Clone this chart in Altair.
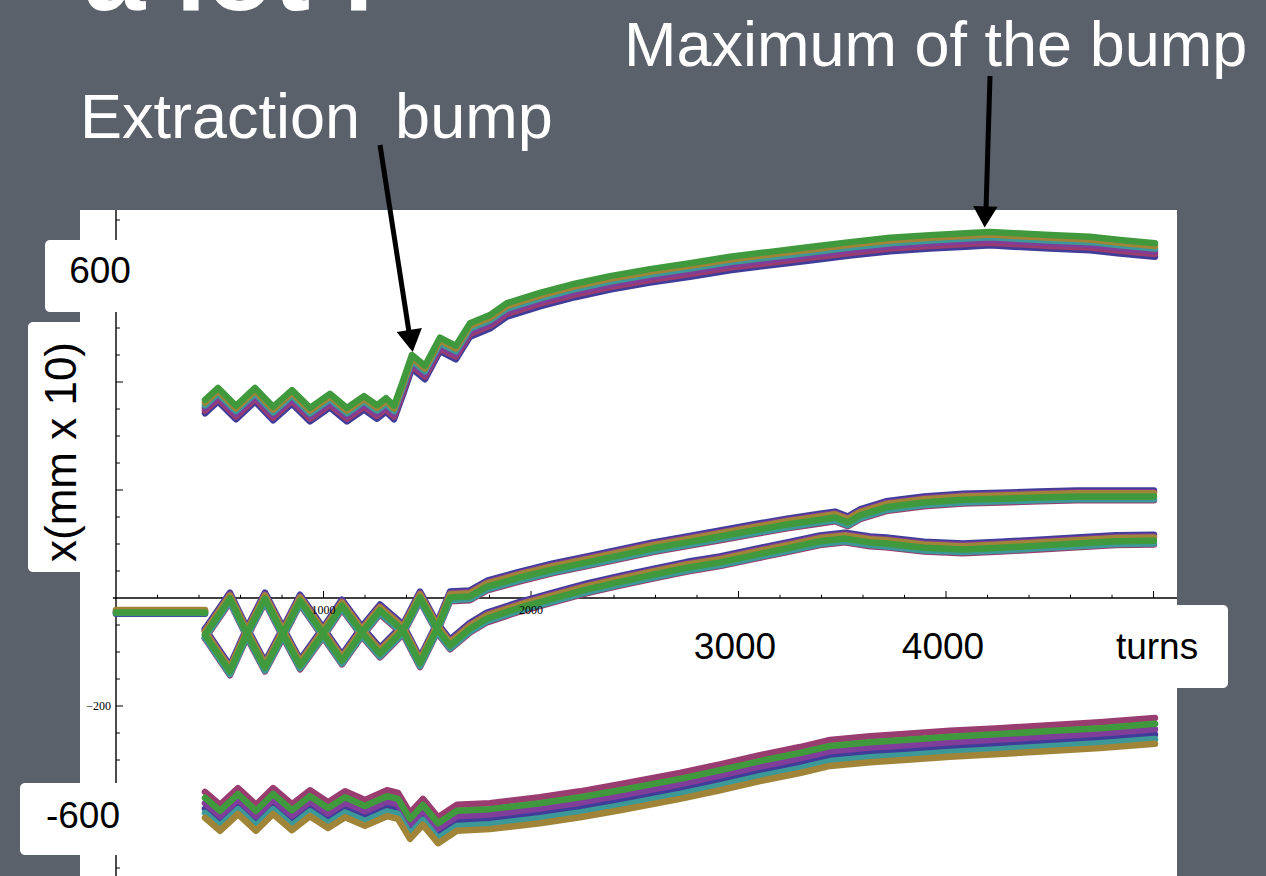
import altair as alt
import pandas as pd

# Horizontal beam position x (mm x 10) against turn number, several particles per beam.

# Upper beam: betatron oscillation, the extraction bump, then the slow drift to its maximum
upper_turns = [429, 492, 578, 670, 757, 848, 935, 1031, 1113, 1195,
               1258, 1301, 1340, 1388, 1426, 1489, 1561, 1638, 1706, 1802,
               1884, 2043, 2212, 2381, 2573, 2766, 2959, 3152, 3344, 3537,
               3730, 3923, 4115, 4212, 4308, 4501, 4694, 4838, 5007]
upper_x = [354, 376, 343, 376, 341, 372, 339, 365, 339, 361,
           344, 357, 343, 394, 437, 417, 469, 454, 496, 511,
           533, 552, 569, 583, 596, 607, 619, 628, 637, 646,
           654, 659, 663, 665, 663, 659, 656, 650, 644]

# Two beamlets oscillating in antiphase below the axis, then drifting apart upwards
mid_a_turns = [429, 549, 631, 718, 805, 887, 998, 1089, 1185, 1272,
               1383, 1465, 1547, 1610, 1706, 1788, 1947, 2106, 2270, 2429,
               2588, 2752, 2911, 3070, 3234, 3393, 3465, 3527, 3585, 3711,
               3894, 4082, 4265, 4448, 4631, 4819, 5002]
mid_a_x = [-67, 0, -65, -128, -65, -4, -65, -115, -63, -22,
           -59, -120, -56, 2, 4, 22, 39, 54, 67, 80,
           93, 104, 115, 126, 137, 146, 150, 141, 154, 169,
           178, 183, 185, 187, 189, 189, 189]

mid_b_turns = [429, 549, 631, 718, 805, 887, 998, 1089, 1185, 1272,
               1383, 1465, 1547, 1610, 1706, 1788, 1947, 2106, 2270, 2429,
               2588, 2752, 2911, 3070, 3234, 3393, 3513, 3634, 3711, 3894,
               4082, 4265, 4448, 4631, 4819, 5002]
mid_b_x = [-67, -135, -65, 0, -65, -124, -65, -13, -63, -102,
           -59, 2, -56, -87, -56, -37, -17, 0, 17, 31,
           44, 57, 67, 80, 93, 106, 111, 104, 102, 94,
           91, 94, 98, 102, 106, 107]

# Lower beam
lower_turns = [429, 501, 588, 675, 757, 848, 935, 1022, 1104, 1200,
               1306, 1359, 1417, 1479, 1552, 1643, 1802, 2043, 2236, 2429,
               2718, 2911, 3103, 3296, 3441, 3634, 3797, 4019, 4260, 4520,
               4742, 5007]
lower_x = [-383, -407, -376, -407, -376, -406, -380, -402, -382, -398,
           -380, -385, -422, -396, -430, -407, -404, -393, -382, -369,
           -348, -332, -315, -300, -287, -280, -276, -270, -265, -259,
           -254, -246]

# Circulating beam before the bump is switched on
inject_turns = [0, 429]
inject_x = [-26, -26]

# one colour per particle, drawn in this order (last on top)
particle_colors = ["#3f3d99", "#993d71", "#803d99", "#3d9997", "#a08538", "#41993d"]
# where each particle sits inside its beam band, in x units
upper_spread = [-12, -7, -2, 3, 8, 13]
mid_spread = [10, -8, 7, -6, 5, -1]
lower_spread = [-7, 24, 3, -15, -24, 13]
inject_spread = [-3, 2, 0, -2, 4, -1]

x_major_ticks = [1000, 2000, 3000, 4000, 5000]
y_major_ticks = [600, 400, 200, -200, -400]
x_minor_ticks = [t for t in range(200, 5001, 200) if t % 1000]
y_minor_ticks = [v for v in range(-500, 701, 50) if v % 200]
x_tick_labels = [1000, 2000]
y_tick_labels = [-200]

X_SCALE = alt.Scale(domain=[-559, 5542], nice=False, zero=False)
Y_SCALE = alt.Scale(domain=[-514.8, 1107.4], nice=False, zero=False)
SANS = "Liberation Sans"

rows = []
for name, turns, xs, spread in [
    ("inject", inject_turns, inject_x, inject_spread),
    ("upper", upper_turns, upper_x, upper_spread),
    ("mid_a", mid_a_turns, mid_a_x, mid_spread),
    ("mid_b", mid_b_turns, mid_b_x, mid_spread),
    ("lower", lower_turns, lower_x, lower_spread),
]:
    for p in range(len(particle_colors)):
        for t, v in zip(turns, xs):
            rows.append({"beam": name, "particle": p, "turn": t, "x": v + spread[p]})
tracks = pd.DataFrame(rows)

one = alt.Data(values=[{}])


def deco():
    return alt.Chart(one)


# white plot panel
panel = deco().mark_rect(color="white").encode(
    x=alt.value(80), x2=alt.value(1177), y=alt.value(210), y2=alt.value(876))

# axes crossing at the origin
y_axis = deco().mark_rule(color="black", strokeWidth=1.4).encode(
    x=alt.X(datum=0, scale=X_SCALE, axis=None), y=alt.value(210), y2=alt.value(876))
x_axis = deco().mark_rule(color="black", strokeWidth=1.4).encode(
    x=alt.X(datum=-15, scale=X_SCALE, axis=None), x2=alt.value(1177),
    y=alt.Y(datum=0, scale=Y_SCALE, axis=None))

x_ticks_major = alt.Chart(pd.DataFrame({"t": x_major_ticks})).mark_rule(
    color="black", strokeWidth=1).encode(
    x=alt.X("t:Q", scale=X_SCALE, axis=None),
    y=alt.Y(datum=0, scale=Y_SCALE, axis=None), y2=alt.Y2(datum=13))
x_ticks_minor = alt.Chart(pd.DataFrame({"t": x_minor_ticks})).mark_rule(
    color="black", strokeWidth=1).encode(
    x=alt.X("t:Q", scale=X_SCALE, axis=None),
    y=alt.Y(datum=0, scale=Y_SCALE, axis=None), y2=alt.Y2(datum=6))
y_ticks_major = alt.Chart(pd.DataFrame({"v": y_major_ticks})).mark_rule(
    color="black", strokeWidth=1).encode(
    y=alt.Y("v:Q", scale=Y_SCALE, axis=None),
    x=alt.X(datum=0, scale=X_SCALE, axis=None), x2=alt.X2(datum=34))
y_ticks_minor = alt.Chart(pd.DataFrame({"v": y_minor_ticks})).mark_rule(
    color="black", strokeWidth=1).encode(
    y=alt.Y("v:Q", scale=Y_SCALE, axis=None),
    x=alt.X(datum=0, scale=X_SCALE, axis=None), x2=alt.X2(datum=19))

# particle tracks, one layer per colour
lines = []
for p, col in enumerate(particle_colors):
    lines.append(
        alt.Chart(tracks[tracks.particle == p]).mark_line(
            color=col, strokeWidth=6.5, strokeCap="round", strokeJoin="round").encode(
            x=alt.X("turn:Q", scale=X_SCALE, axis=None),
            y=alt.Y("x:Q", scale=Y_SCALE, axis=None),
            detail="beam:N", order="turn:Q"))

x_labels = alt.Chart(pd.DataFrame({"t": x_tick_labels})).mark_text(
    font="Liberation Serif", fontSize=12, color="black", dy=12, baseline="middle").encode(
    x=alt.X("t:Q", scale=X_SCALE, axis=None),
    y=alt.Y(datum=0, scale=Y_SCALE, axis=None),
    text=alt.Text("t:Q", format="d"))
y_labels = alt.Chart(pd.DataFrame({"v": y_tick_labels})).mark_text(
    font="Liberation Serif", fontSize=12, color="black", dx=-5, align="right",
    baseline="middle").encode(
    y=alt.Y("v:Q", scale=Y_SCALE, axis=None),
    x=alt.X(datum=0, scale=X_SCALE, axis=None),
    text=alt.Text("v:Q", format="d"))


def box(x0, x1, y0, y1):
    return deco().mark_rect(color="white", cornerRadius=5).encode(
        x=alt.value(x0), x2=alt.value(x1), y=alt.value(y0), y2=alt.value(y1))


def label(text, x, y, size=37, color="black", align="center", angle=0,
          weight="normal", baseline="alphabetic"):
    return deco().mark_text(
        text=text, font=SANS, fontSize=size, color=color, align=align,
        angle=angle, fontWeight=weight, baseline=baseline).encode(
        x=alt.value(x), y=alt.value(y))


boxes = [
    box(45, 140, 240, 312),
    box(28, 113, 322, 572),
    box(20, 140, 783, 855),
    box(630, 1228, 605, 688),
]
box_texts = [
    label("600", 100, 283),
    label("x(mm x 10)", 76, 452, size=44, angle=270),
    label("-600", 83, 828),
    label("3000", 735, 659),
    label("4000", 943, 659),
    label("turns", 1157, 659),
]

# arrows pointing at the bump
arrows = [
    deco().mark_rule(color="black", strokeWidth=5).encode(
        x=alt.value(380), y=alt.value(145), x2=alt.value(409), y2=alt.value(332)),
    deco().mark_point(shape="triangle-down", filled=True, size=650, color="black",
                      opacity=1, angle=351).encode(x=alt.value(411), y=alt.value(341)),
    deco().mark_rule(color="black", strokeWidth=5).encode(
        x=alt.value(990), y=alt.value(76), x2=alt.value(986), y2=alt.value(210)),
    deco().mark_point(shape="triangle-down", filled=True, size=600, color="black",
                      opacity=1, angle=2).encode(x=alt.value(985), y=alt.value(217)),
]

slide_texts = [
    label("a lot f", 84, 10, size=110, color="white", align="left", weight="bold"),
    label("Maximum of the bump", 624, 66, size=63, color="white", align="left"),
    label("Extraction\u00a0\u00a0bump", 80, 138, size=63, color="white", align="left"),
]

chart = alt.layer(
    panel, y_axis, x_axis, x_ticks_major, x_ticks_minor, y_ticks_major, y_ticks_minor,
    *lines, x_labels, y_labels, *boxes, *box_texts, *arrows, *slide_texts,
).properties(
    width=1266, height=876, autosize=alt.AutoSizeParams(type="none"), padding=0,
).configure(background="#5b616a").configure_view(strokeWidth=0)

chart.save("out.html", embed_options={"renderer": "svg", "actions": False})
